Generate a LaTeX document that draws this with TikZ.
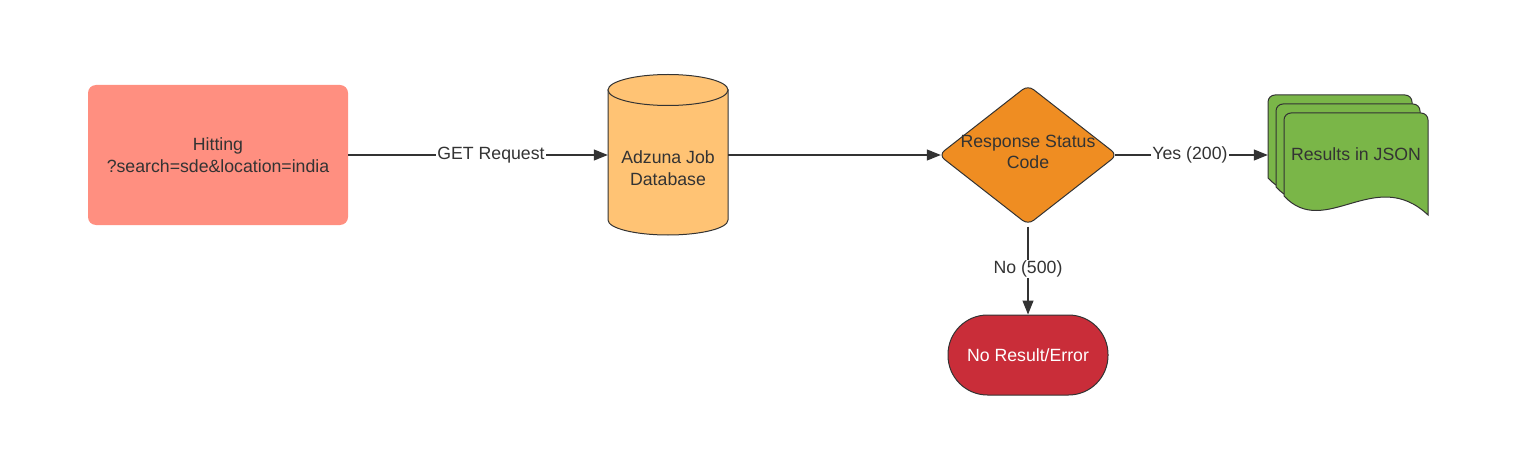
\documentclass[tikz,border=0pt]{standalone}
\usepackage{fontspec}
\setmainfont{Liberation Sans}
\usetikzlibrary{arrows.meta,calc}
\definecolor{txt}{HTML}{333333}
\definecolor{salmon}{HTML}{FF8F80}
\definecolor{dbcol}{HTML}{FFC374}
\definecolor{deccol}{HTML}{EF8D22}
\definecolor{doccol}{HTML}{7AB648}
\definecolor{errcol}{HTML}{C92D39}
\tikzset{
  lbl/.style={font=\fontsize{17.7}{21.5}\selectfont, text=txt, align=center},
  conn/.style={draw=txt, line width=1.1pt, -{Triangle[length=14pt,width=11pt]}},
  elabel/.style={lbl, fill=white, inner sep=1pt},
  outl/.style={draw=txt, line width=1pt},
  docpage/.pic={
    \path[outl, fill=doccol] (0,83) -- (0,6) [rounded corners=7] -- (0,0) -- (144,0) [sharp corners] -- (144,8) -- (144,102)
      .. controls (91,52) and (41,127) .. (0,83) -- cycle;
  }
}
\begin{document}
\begin{tikzpicture}[x=1pt,y=-1pt]
\useasboundingbox (0,0) rectangle (1520,465);

% Hitting box
\node[lbl, fill=salmon, rounded corners=8, minimum width=260, minimum height=140, inner sep=0] (hit) at (218,155)
  {Hitting\\?search=sde\&location=india};

% Database cylinder
\node[minimum width=120, minimum height=160, inner sep=0] (db) at (668,155) {};
\path[outl, fill=dbcol] (608,90) -- (608,220) arc[start angle=180, end angle=0, x radius=60, y radius=15] -- (728,90) -- cycle;
\path[outl, fill=dbcol] (668,90) ellipse[x radius=60, y radius=15.5];
\node[lbl] (dbtext) at (668,168) {Adzuna Job\\Database};

% Decision diamond
\node[minimum width=178, minimum height=139, inner sep=0] (dec) at (1028,155) {};
\path[outl, fill=deccol, rounded corners=7] ($(dec.west)!0.5!(dec.north)$) -- (dec.north) -- (dec.east) -- (dec.south) -- (dec.west) -- cycle;
\node[lbl] (dectext) at (1028,152) {Response Status\\Code};

% Results document stack
\node[minimum width=160, minimum height=120, inner sep=0] (res) at (1348,155) {};
\pic at (1268,95) {docpage};
\pic at (1276,104) {docpage};
\pic at (1284,113) {docpage};
\node[lbl] (restext) at (1356,154) {Results in JSON};

% Error terminal
\node[outl, fill=errcol, rounded corners=39.5, minimum width=160, minimum height=80, inner sep=0,
      font=\fontsize{17.7}{21.5}\selectfont, text=white] (err) at (1028,355) {No Result/Error};

% Connectors
\draw[conn] (hit.east) -- node[elabel, pos=0.55] {GET Request} (db.west);
\draw[conn] (db.east) -- ([xshift=2pt]dec.west);
\draw[conn] ([xshift=-2pt]dec.east) -- node[elabel, pos=0.49] {Yes (200)} (res.west);
\draw[conn] ([yshift=-2pt]dec.south) -- node[elabel, pos=0.48] {No (500)} (err.north);
\end{tikzpicture}
\end{document}
